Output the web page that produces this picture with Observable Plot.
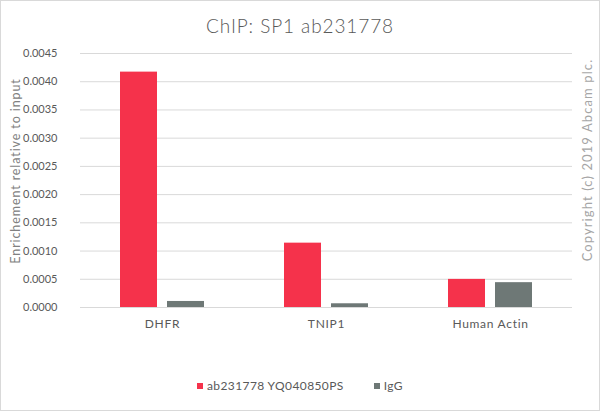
<!DOCTYPE html>
<html><head><meta charset="utf-8">
<script src="https://cdn.jsdelivr.net/npm/d3@7"></script>
<script src="https://cdn.jsdelivr.net/npm/@observablehq/plot@0.6"></script>
<style>
  html, body { margin: 0; padding: 0; background: #fff; }
  #wrap { position: relative; width: 600px; height: 411px; overflow: hidden; font-family: Lato, "Open Sans", sans-serif; color: #595959; }
  #border { position: absolute; inset: 0; border: 1px solid #d9d9d9; box-sizing: border-box; pointer-events: none; }
  #title { position: absolute; top: 14px; left: 0; width: 600px; text-align: center; font-size: 19px; font-weight: 300; letter-spacing: 0.9px; }
  #chart { position: absolute; top: 40px; left: 0; }
  #ylabel { position: absolute; left: 15px; top: 171px; transform: translate(-50%, -50%) rotate(-90deg); white-space: nowrap; font-size: 12.5px; letter-spacing: 0.9px; color: #808080; }
  #copy { position: absolute; left: 587px; top: 160px; transform: translate(-50%, -50%) rotate(-90deg); white-space: nowrap; font-size: 13px; letter-spacing: 1.1px; color: #a6a6a6; }
  #legend { position: absolute; top: 378px; left: 0; width: 600px; display: flex; justify-content: center; font-size: 12px; letter-spacing: 0.4px; }
  .item { display: flex; align-items: center; margin: 0 15px; }
  .sw { width: 6px; height: 6px; margin-right: 4px; }
  #chart svg g[aria-label="fx-axis tick label"] text, #chart svg g[aria-label="fx-axis"] text { font-size: 12px; letter-spacing: 0.7px; }
</style>
</head><body>
<div id="wrap">
  <div id="title">ChIP: SP1 ab231778</div>
  <div id="chart"></div>
  <div id="ylabel">Enrichement relative to input</div>
  <div id="copy">Copyright (c) 2019 Abcam plc.</div>
  <div id="legend"></div>
  <div id="border"></div>
</div>
<script>
const targets = ["DHFR", "TNIP1", "Human Actin"];
const series = ["ab231778 YQ040850PS", "IgG"];
const spValues = [0.00417, 0.00114, 0.000498];
const iggValues = [0.000107, 0.000066, 0.00044];
const yTicks = [0, 0.0005, 0.001, 0.0015, 0.002, 0.0025, 0.003, 0.0035, 0.004, 0.0045];
const colors = ["#f5324b", "#6e7876"];

const data = targets.flatMap((t, i) => [
  {target: t, series: series[0], value: spValues[i]},
  {target: t, series: series[1], value: iggValues[i]}
]);

const chart = Plot.plot({
  width: 600, height: 310,
  marginTop: 13, marginBottom: 43, marginLeft: 80, marginRight: 28,
  style: {fontFamily: "Lato, 'Open Sans', sans-serif", fontSize: "11px", color: "#595959", background: "transparent"},
  fx: {domain: targets, padding: 0, label: null, axis: "bottom", tickSize: 0, tickPadding: 12},
  x: {domain: series, axis: null, paddingInner: 0.213, paddingOuter: 0.851},
  y: {domain: [0, 0.0045], ticks: 9, tickFormat: d3.format(".4f"), tickSize: 0, tickPadding: 23, label: null},
  color: {domain: series, range: colors},
  marks: [
    Plot.ruleY(yTicks, {stroke: "#d9d9d9", strokeOpacity: 1}),
    Plot.barY(data, {fx: "target", x: "series", y: "value", fill: "series"})
  ]
});
document.getElementById("chart").appendChild(chart);

const legend = document.getElementById("legend");
series.forEach((s, i) => {
  const item = document.createElement("div");
  item.className = "item";
  const sw = document.createElement("div");
  sw.className = "sw";
  sw.style.background = colors[i];
  const label = document.createElement("span");
  label.textContent = s;
  item.appendChild(sw);
  item.appendChild(label);
  legend.appendChild(item);
});
</script>
</body></html>
